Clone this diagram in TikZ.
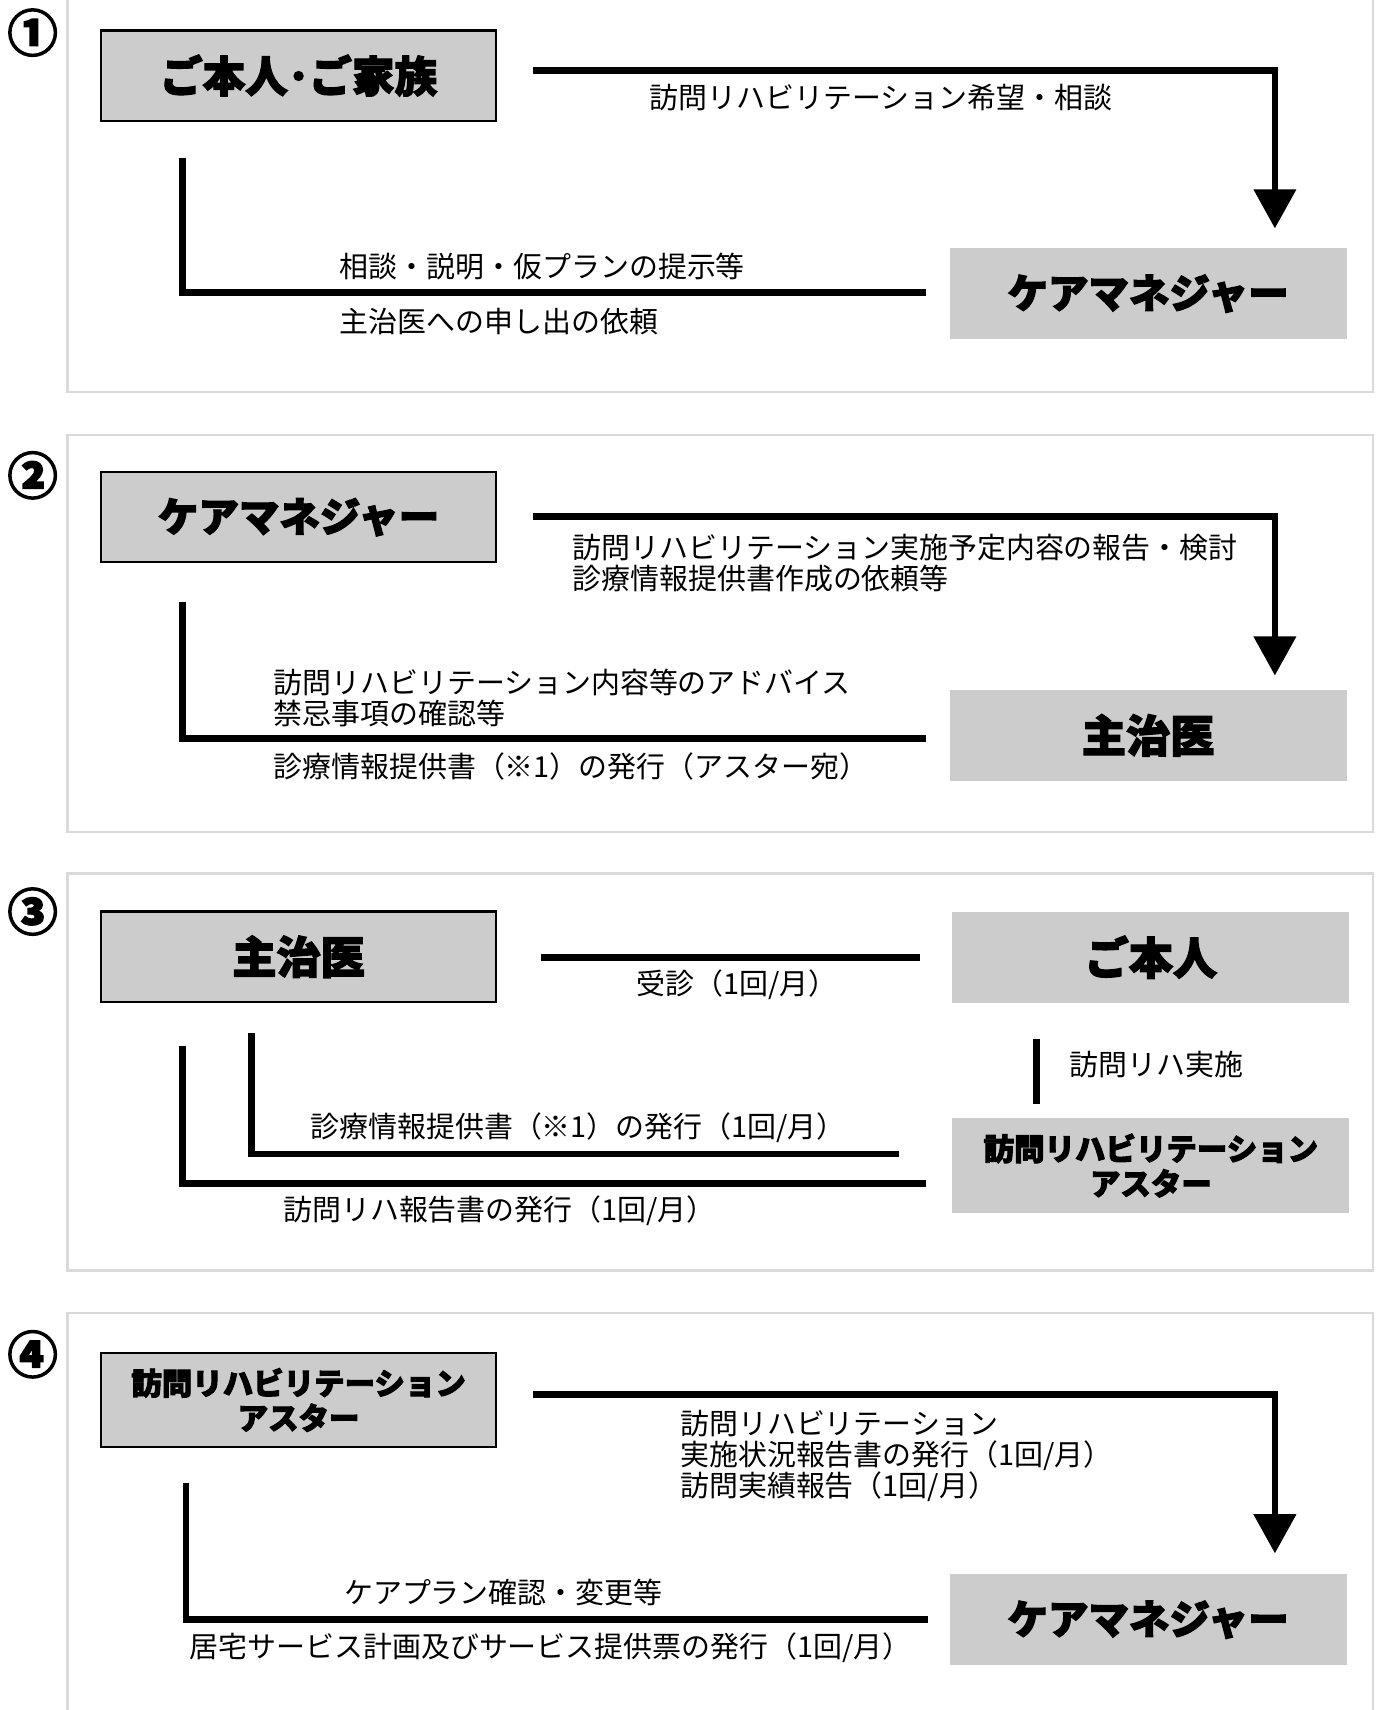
\documentclass[tikz,border=0pt]{standalone}
\usepackage{fontspec}
\setmainfont{Noto Sans CJK JP}
\newfontfamily\jpheavy{Noto Sans CJK JP}[FakeBold=3]
\usetikzlibrary{arrows.meta}
\definecolor{boxgray}{RGB}{204,204,204}
\definecolor{framegray}{RGB}{218,218,218}
\begin{document}
\begin{tikzpicture}[x=0.5pt,y=-0.5pt,
  panel/.style={draw=framegray,line width=1pt},
  lbox/.style={fill=boxgray,draw=black,line width=1pt,minimum width=181.5pt,minimum height=41.5pt,inner sep=0pt},
  rbox/.style={fill=boxgray,minimum width=182.5pt,minimum height=42pt,inner sep=0pt},
  conn/.style={line width=3pt},
  arr/.style={conn,-{Triangle[width=19pt,length=18pt]}},
  lab/.style={anchor=west,inner sep=0pt,font=\fontsize{13.3}{15}\selectfont},
  heavy/.style={font=\jpheavy\bfseries\fontsize{18.6}{20}\selectfont},
  heavyfam/.style={font=\jpheavy\bfseries\fontsize{19.6}{21}\selectfont},
  heavybig/.style={font=\jpheavy\bfseries\fontsize{20.3}{22}\selectfont},
  heavytwo/.style={font=\jpheavy\bfseries\fontsize{14}{16}\selectfont,align=center},
  num/.style={font=\jpheavy\bfseries\fontsize{23}{23}\selectfont,inner sep=0pt}]
\clip (0,0) rectangle (1270,1572);
\fill[white] (0,0) rectangle (1270,1572);
% panels
\draw[panel] (62,-10) rectangle (1262,360);
\draw[panel] (62,400) rectangle (1262,765);
\draw[panel] (62,803) rectangle (1262,1168);
\draw[panel] (62,1207) rectangle (1262,1600);
% numbers
\node[num] (n1) at (30,30) {①};
\node[num] (n2) at (30,437) {②};
\node[num] (n3) at (30,838) {③};
\node[num] (n4) at (30,1245) {④};

% ---------- panel 1
\node[lbox,heavyfam] (p1a) at (274.5,69.5) {ご本人･ご家族};
\node[rbox,heavy] (p1b) at (1055.5,270) {ケアマネジャー};
\coordinate (p1s1) at (490,65);
\coordinate (p1k1) at (1172,65);
\coordinate (p1e1) at (1172,210);
\draw[arr] (p1s1) -- (p1k1) -- (p1e1);
\coordinate (p1s2) at (168,145);
\coordinate (p1k2) at (168,269);
\coordinate (p1e2) at (851,269);
\draw[conn] (p1s2) -- (p1k2) -- (p1e2);
\node[lab] (p1l1) at (597,90) {訪問リハビリテーション希望・相談};
\node[lab] (p1l2) at (312,245) {相談・説明・仮プランの提示等};
\node[lab] (p1l3) at (312,296) {主治医への申し出の依頼};

% ---------- panel 2
\node[lbox,heavy] (p2a) at (274.5,475.5) {ケアマネジャー};
\node[rbox,heavybig] (p2b) at (1055.5,676) {主治医};
\coordinate (p2s1) at (490,475);
\coordinate (p2k1) at (1172,475);
\coordinate (p2e1) at (1172,621);
\draw[arr] (p2s1) -- (p2k1) -- (p2e1);
\coordinate (p2s2) at (168,553);
\coordinate (p2k2) at (168,679);
\coordinate (p2e2) at (851,679);
\draw[conn] (p2s2) -- (p2k2) -- (p2e2);
\node[lab] (p2l1) at (526,503) {訪問リハビリテーション実施予定内容の報告・検討};
\node[lab] (p2l2) at (526,532) {診療情報提供書作成の依頼等};
\node[lab] (p2l3) at (251,627) {訪問リハビリテーション内容等のアドバイス};
\node[lab] (p2l4) at (251,656) {禁忌事項の確認等};
\node[lab] (p2l5) at (251,705) {診療情報提供書（※1）の発行（アスター宛）};

% ---------- panel 3
\node[lbox,heavybig] (p3a) at (274.5,879.5) {主治医};
\node[rbox,heavybig] (p3b) at (1058,880) {ご本人};
\node[rbox,heavytwo,minimum height=43.5pt] (p3c) at (1058,1071.5) {訪問リハビリテーション\\アスター};
\coordinate (p3s1) at (497,880);
\coordinate (p3e1) at (846,880);
\draw[conn] (p3s1) -- (p3e1);
\node[lab] (p3l1) at (585,905) {受診（1回/月）};
\coordinate (p3s2) at (953,955);
\coordinate (p3e2) at (953,1015);
\draw[conn] (p3s2) -- (p3e2);
\node[lab] (p3l2) at (983,979) {訪問リハ実施};
\coordinate (p3s3) at (231,950);
\coordinate (p3k3) at (231,1061);
\coordinate (p3e3) at (826,1061);
\draw[conn] (p3s3) -- (p3k3) -- (p3e3);
\node[lab] (p3l3) at (285,1037) {診療情報提供書（※1）の発行（1回/月）};
\coordinate (p3s4) at (168,962);
\coordinate (p3k4) at (168,1088);
\coordinate (p3e4) at (851,1088);
\draw[conn] (p3s4) -- (p3k4) -- (p3e4);
\node[lab] (p3l4) at (260,1113) {訪問リハ報告書の発行（1回/月）};

% ---------- panel 4
\node[lbox,heavytwo,minimum height=43pt] (p4a) at (274.5,1287) {訪問リハビリテーション\\アスター};
\node[rbox,heavy] (p4b) at (1055.5,1489) {ケアマネジャー};
\coordinate (p4s1) at (490,1282);
\coordinate (p4k1) at (1172,1282);
\coordinate (p4e1) at (1172,1428);
\draw[arr] (p4s1) -- (p4k1) -- (p4e1);
\node[lab] (p4l1) at (625,1309) {訪問リハビリテーション};
\node[lab] (p4l2) at (625,1338) {実施状況報告書の発行（1回/月）};
\node[lab] (p4l3) at (625,1367) {訪問実績報告（1回/月）};
\coordinate (p4s2) at (171,1363);
\coordinate (p4k2) at (171,1489);
\coordinate (p4e2) at (853,1489);
\draw[conn] (p4s2) -- (p4k2) -- (p4e2);
\node[lab] (p4l4) at (316,1464) {ケアプラン確認・変更等};
\node[lab] (p4l5) at (174,1515) {居宅サービス計画及びサービス提供票の発行（1回/月）};
\end{tikzpicture}
\end{document}
